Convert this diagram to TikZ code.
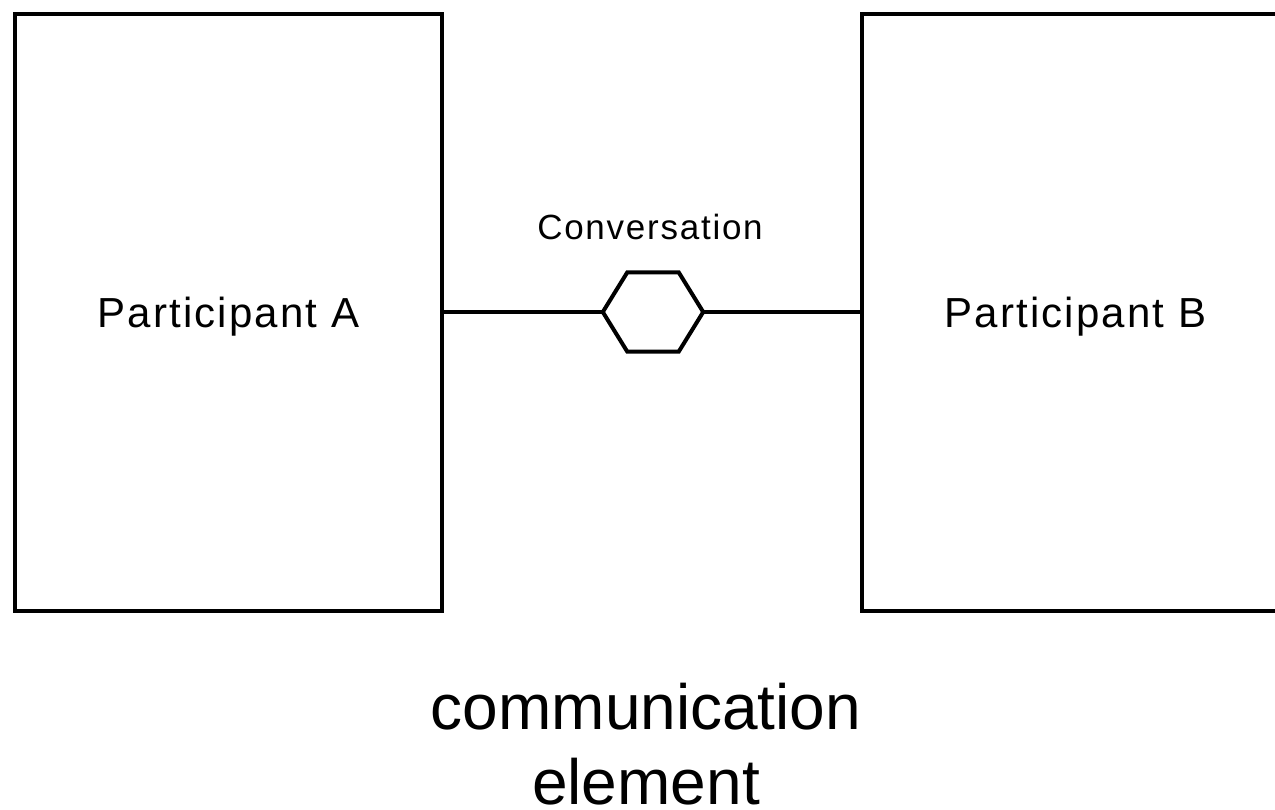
\documentclass[tikz,border=0pt]{standalone}
\usepackage{fontspec}
\setmainfont{Liberation Sans}
\newfontfamily\spacedfont[LetterSpace=5]{Liberation Sans}
\usetikzlibrary{calc}
\tikzset{
  partbox/.style={draw=black, line width=4pt, minimum width=427pt, minimum height=597pt,
    inner sep=0pt, text depth=0pt, font=\spacedfont\fontsize{42}{48}\selectfont},
  hexanchor/.style={minimum width=100pt, minimum height=79pt, inner sep=0pt},
  hexline/.style={draw=black, line width=4pt, line join=miter},
  conn/.style={draw=black, line width=3.5pt},
  smalllabel/.style={inner sep=0pt, font=\spacedfont\fontsize{35}{40}\selectfont},
  biglabel/.style={inner sep=0pt, align=center, font=\fontsize{64}{75}\selectfont}
}
\begin{document}
\begin{tikzpicture}[x=1pt,y=-1pt]
\useasboundingbox (0,0) rectangle (1275,809);
\clip (0,0) rectangle (1275,809);
\fill[white] (0,0) rectangle (1275,809);
\node[partbox] (A) at (228.5,312) {Participant A};
\node[partbox] (B) at (1075.5,312) {Participant B};
\node[hexanchor] (conv) at (653,312) {};
\draw[hexline] (conv.west) -- ($(conv.north west)+(24.5,0)$) -- ($(conv.north east)+(-24.5,0)$)
  -- (conv.east) -- ($(conv.south east)+(-24.5,0)$) -- ($(conv.south west)+(24.5,0)$) -- cycle;
\draw[conn] (A.east) -- (conv.west);
\draw[conn] (conv.east) -- (B.west);
\node[smalllabel, anchor=base] (convlabel) at (650,239) {Conversation};
\node[biglabel] (caption) at (646,744) {communication\\element};
\end{tikzpicture}
\end{document}
